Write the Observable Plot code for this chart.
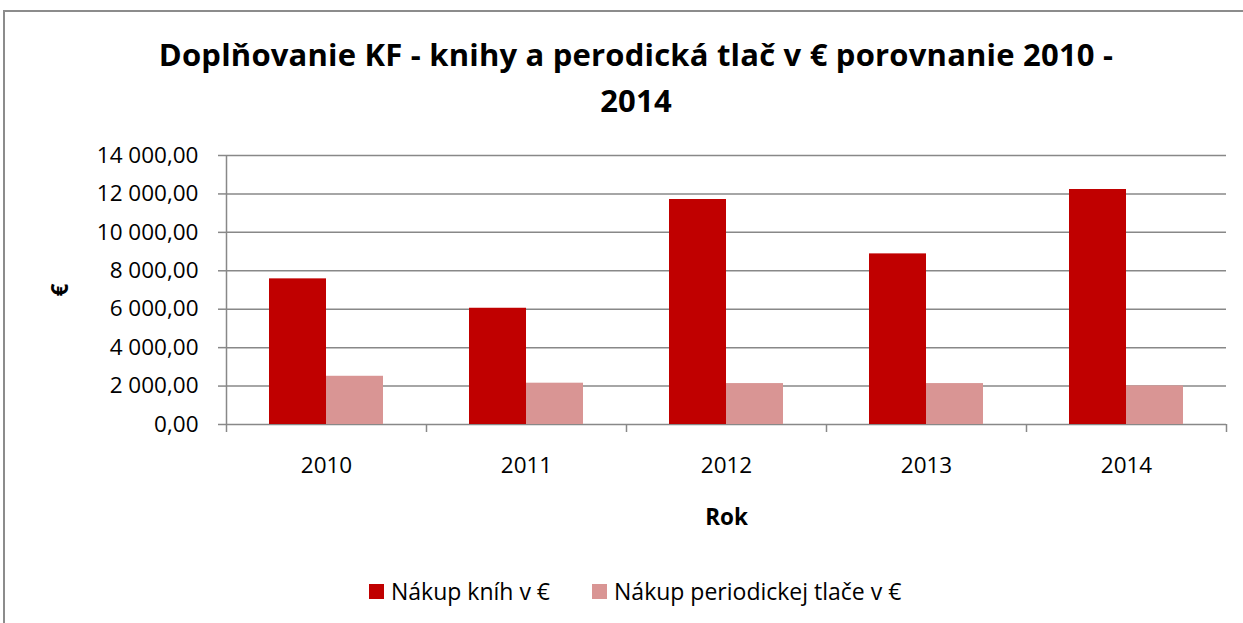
<!DOCTYPE html>
<html>
<head>
<meta charset="utf-8">
<script src="https://cdn.jsdelivr.net/npm/d3@7"></script>
<script src="https://cdn.jsdelivr.net/npm/@observablehq/plot@0.6"></script>
<style>
  html, body { margin: 0; padding: 0; background: #fff; }
  body { width: 1243px; height: 623px; overflow: hidden; position: relative; font-family: "Open Sans", sans-serif; }
  #frame { position: absolute; left: 3px; top: 10px; width: 1264px; height: 700px; border: 2px solid #8c8c8c; box-sizing: border-box; }
  #title { position: absolute; left: 3px; top: 31px; width: 1266px; text-align: center; font-weight: bold; font-size: 31px; line-height: 46px; color: #000; white-space: nowrap; letter-spacing: 0.2px; }
  #chart { position: absolute; left: 0; top: 130px; }
  #legend { position: absolute; top: 575px; left: 369px; display: flex; align-items: center; font-size: 23px; color: #000; white-space: nowrap; }
  .sw { width: 15px; height: 15px; display: inline-block; margin-right: 7px; }
  .item { display: flex; align-items: center; margin-right: 42px; }
</style>
</head>
<body>
<div id="frame"></div>
<div id="title">Doplňovanie KF - knihy a perodická tlač v € porovnanie 2010 -<br>2014</div>
<div id="chart"></div>
<div id="legend"></div>
<script>
const years = ["2010", "2011", "2012", "2013", "2014"];
const knihy = [7580, 6050, 11710, 8880, 12230];
const periodika = [2510, 2150, 2130, 2130, 2010];
const seriesNames = ["Nákup kníh v €", "Nákup periodickej tlače v €"];
const seriesColors = ["#C00000", "#D99594"];
const yTicks = [0, 2000, 4000, 6000, 8000, 10000, 12000, 14000];

const data = [];
years.forEach((y, i) => {
  data.push({year: y, series: seriesNames[0], value: knihy[i]});
  data.push({year: y, series: seriesNames[1], value: periodika[i]});
});

const loc = d3.formatLocale({decimal: ",", thousands: "\u00a0", grouping: [3], currency: ["", " €"]});
const fmt = loc.format(",.2f");
const gridColor = "#888888";

const plot = Plot.plot({
  width: 1243,
  height: 430,
  marginLeft: 226,
  marginRight: 17,
  marginTop: 25,
  marginBottom: 136,
  style: {fontFamily: "Open Sans, sans-serif", fontSize: "22.5px", color: "#000", background: "transparent"},
  x: {domain: years, padding: 0},
  y: {domain: [0, 14000]},
  color: {domain: seriesNames, range: seriesColors},
  marks: [
    Plot.ruleY(yTicks, {stroke: gridColor, strokeWidth: 1.5}),
    Plot.barY(data.filter(d => d.series === seriesNames[0]), {x: "year", y: "value", fill: "series", insetLeft: 43, insetRight: 100}),
    Plot.barY(data.filter(d => d.series === seriesNames[1]), {x: "year", y: "value", fill: "series", insetLeft: 100, insetRight: 43}),
    Plot.axisY(yTicks, {tickFormat: fmt, tickSize: 8, tickPadding: 20, stroke: gridColor, strokeWidth: 1.5, strokeOpacity: 1, label: "€", labelAnchor: "center", labelArrow: "none", labelOffset: 174}),
    Plot.ruleX([0], {x: () => years[0], dx: -100, stroke: gridColor, strokeWidth: 1.5}),
    Plot.ruleX(years, {x: d => d, dx: -100, y1: 0, y2: 0, insetBottom: -8, stroke: gridColor, strokeWidth: 1.5}),
    Plot.ruleX([years[years.length - 1]], {x: d => d, dx: 100, y1: 0, y2: 0, insetBottom: -8, stroke: gridColor, strokeWidth: 1.5}),
    Plot.axisX({tickSize: 0, tickPadding: 33, label: "Rok", labelAnchor: "center", labelArrow: "none", labelOffset: 100})
  ]
});
document.getElementById("chart").appendChild(plot);

// bold axis labels
plot.querySelectorAll("g[aria-label='y-axis label'] text, g[aria-label='x-axis label'] text").forEach(t => t.setAttribute("font-weight", "bold"));

const legend = document.getElementById("legend");
seriesNames.forEach((name, i) => {
  const item = document.createElement("div");
  item.className = "item";
  const sw = document.createElement("span");
  sw.className = "sw";
  sw.style.background = seriesColors[i];
  item.appendChild(sw);
  item.appendChild(document.createTextNode(name));
  legend.appendChild(item);
});
</script>
</body>
</html>
